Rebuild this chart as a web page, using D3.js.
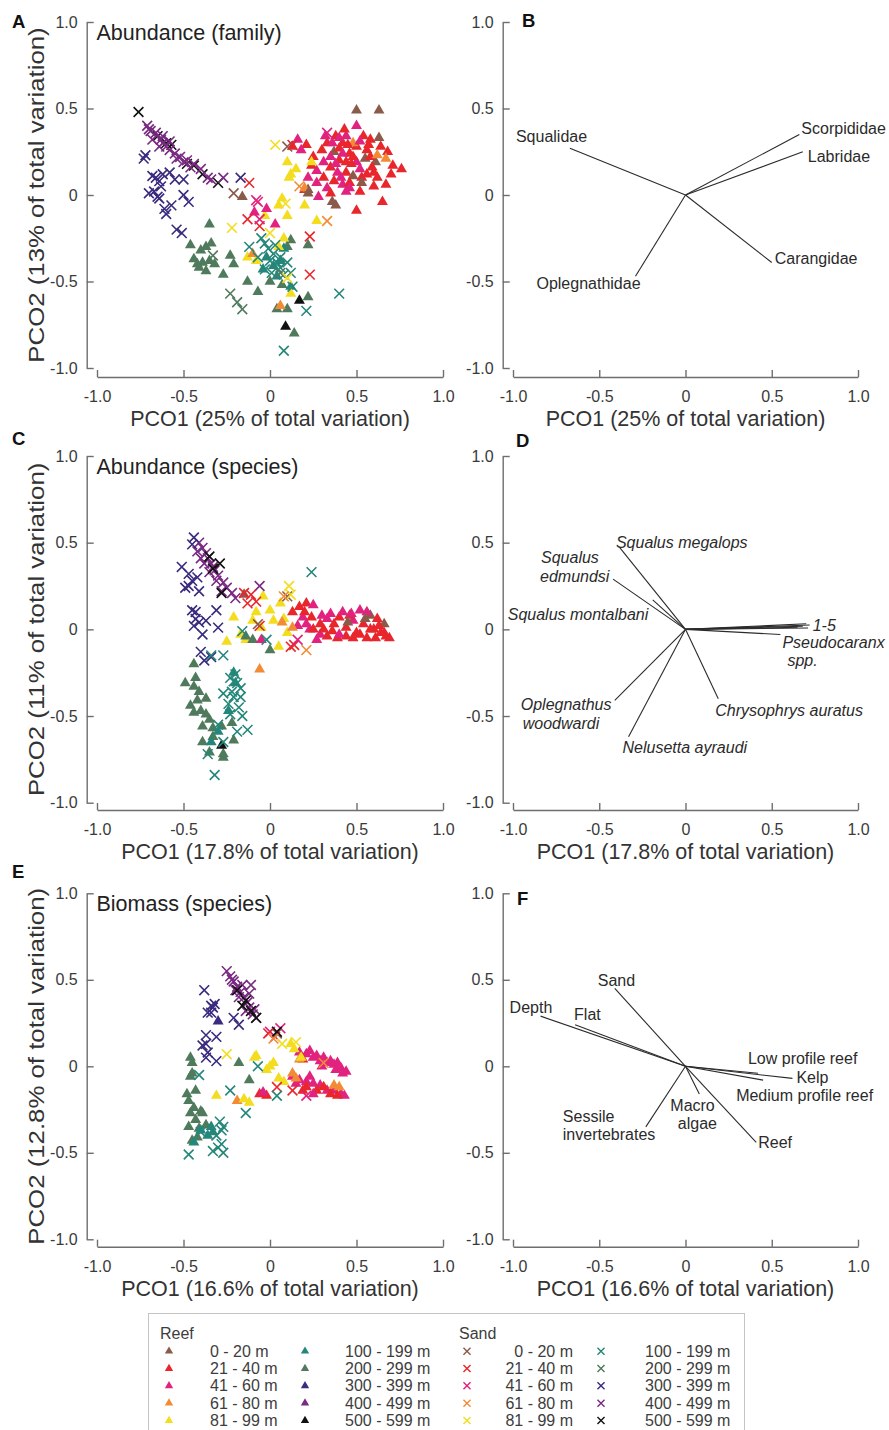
<!DOCTYPE html>
<html>
<head>
<meta charset="utf-8">
<script src="https://cdn.jsdelivr.net/npm/d3@7"></script>
<style>
  html, body { margin: 0; padding: 0; background: #fff; }
  svg { display: block; font-family: "Liberation Sans", Arial, Helvetica, sans-serif; }
</style>
</head>
<body>
<svg id="fig" width="889" height="1430"></svg>
<script>
// ---------- categories ----------
const habitats = ["Reef", "Sand"];
const depthClasses = ["0 - 20 m", "21 - 40 m", "41 - 60 m", "61 - 80 m", "81 - 99 m",
                      "100 - 199 m", "200 - 299 m", "300 - 399 m", "400 - 499 m", "500 - 599 m"];
const depthColours = ["#8a5b4b", "#e8262b", "#e2227f", "#f28b36", "#f3dd1e",
                      "#24877a", "#4f7a5c", "#3a2b7e", "#7a2a82", "#111111"];
const tickValues = [-1, -0.5, 0, 0.5, 1];

// ---------- PCO scores: [PCO1, PCO2, depth class index] ----------
const reefFamily = [
  [0.50,0.49,0],[0.63,0.49,0],[0.50,0.40,2],[0.16,0.32,2],[0.21,0.29,1],[0.13,0.28,1],[0.38,0.34,1],[0.44,0.34,2],
  [0.42,0.30,1],[0.50,0.28,1],[0.58,0.32,1],[0.63,0.33,0],[0.54,0.34,1],[0.33,0.30,1],[0.37,0.25,0],[0.40,0.27,1],
  [0.46,0.24,1],[0.56,0.26,1],[0.48,0.30,3],[0.68,0.25,1],[0.55,0.21,0],[0.61,0.19,0],[0.71,0.17,1],[0.76,0.15,1],
  [0.67,0.21,3],[0.31,0.19,2],[0.27,0.14,2],[0.35,0.16,1],[0.40,0.20,1],[0.44,0.19,1],[0.50,0.19,2],[0.39,0.13,2],
  [0.44,0.13,1],[0.48,0.11,0],[0.53,0.10,1],[0.60,0.13,1],[0.59,0.16,1],[0.31,0.10,1],[0.27,0.07,2],[0.33,0.04,2],
  [0.42,0.06,2],[0.46,0.07,1],[0.53,0.07,0],[0.60,0.05,1],[0.67,0.06,1],[0.22,0.10,2],[0.20,0.03,1],[0.35,0.01,1],
  [0.38,-0.06,0],[0.50,-0.09,1],[0.65,-0.04,1],[0.44,0.02,2],[0.28,-0.01,2],[0.22,0.03,0],
  [0.36,0.30,2],[0.40,0.33,2],[0.45,0.29,1],[0.52,0.31,2],[0.57,0.29,1],[0.35,0.22,2],[0.42,0.24,2],[0.47,0.18,1],
  [0.52,0.15,2],[0.58,0.22,1],[0.64,0.28,1],[0.30,0.26,1],[0.25,0.22,1],[0.18,0.26,2],[0.37,0.08,1],[0.41,0.10,2],
  [0.56,0.12,1],[0.62,0.10,1],[0.70,0.12,1],[0.46,0.04,2],[0.38,0.18,2],[0.48,0.22,1],[0.32,0.34,2],[0.43,0.38,1],
  [0.24,0.17,1],[0.62,0.23,3],[0.52,0.02,1],
  [0.10,0.19,4],[0.12,0.12,4],[0.24,0.19,4],[0.20,-0.06,4],[0.10,-0.12,4],[-0.03,-0.12,4],[0.27,-0.15,4],
  [0.11,0.10,4],[0.05,-0.06,4],[0.07,-0.02,4],[0.15,0.15,4],
  [0.20,0.04,3],[0.22,0.01,0],[0.36,-0.04,0],
  [-0.09,-0.10,2],[0.03,-0.17,2],[-0.02,-0.08,2],[-0.16,-0.01,0],
  [-0.35,-0.17,6],[-0.46,-0.29,6],[-0.40,-0.32,6],[-0.37,-0.30,6],[-0.44,-0.37,6],[-0.39,-0.39,6],[-0.42,-0.40,6],
  [-0.35,-0.38,6],[-0.37,-0.44,6],[-0.34,-0.28,6],[-0.23,-0.35,6],[-0.21,-0.40,6],[-0.27,-0.46,6],[-0.13,-0.50,6],
  [-0.07,-0.56,6],[0.00,-0.50,6],[0.07,-0.52,6],[0.12,-0.26,6],[0.22,-0.29,6],[0.22,-0.59,6],[0.04,-0.66,6],
  [0.10,-0.66,6],[0.14,-0.80,6],[-0.41,-0.42,6],[-0.32,-0.40,6],[0.10,-0.30,6],
  [-0.02,-0.36,5],[0.06,-0.38,5],[0.02,-0.41,5],[0.12,-0.53,5],[0.08,-0.31,5],[-0.04,-0.43,5],[0.04,-0.47,5],
  [-0.13,-0.36,4],[-0.08,-0.38,4],[0.12,-0.57,4],[0.08,-0.25,4],[0.05,-0.30,4],
  [-0.10,-0.34,3],[0.06,-0.64,3],
  [0.09,-0.76,9],[0.17,-0.61,9]
];
const sandFamily = [
  [-0.76,0.48,9],[-0.65,0.34,9],[-0.57,0.29,9],[-0.48,0.18,9],[-0.39,0.12,9],[-0.30,0.07,9],[-0.44,0.17,9],[-0.60,0.30,9],
  [-0.71,0.40,8],[-0.69,0.37,8],[-0.66,0.36,8],[-0.63,0.32,8],[-0.62,0.30,8],[-0.60,0.28,8],[-0.58,0.26,8],[-0.55,0.24,8],
  [-0.52,0.22,8],[-0.48,0.20,8],[-0.44,0.18,8],[-0.40,0.15,8],[-0.36,0.10,8],[-0.34,0.09,8],[-0.27,0.10,8],[-0.68,0.32,8],
  [-0.62,0.34,8],[-0.58,0.31,8],[-0.54,0.21,8],[-0.64,0.28,8],[-0.70,0.38,8],[-0.50,0.19,8],[-0.46,0.16,8],
  [-0.72,0.23,7],[-0.73,0.21,7],[-0.68,0.11,7],[-0.66,0.10,7],[-0.64,0.08,7],[-0.70,0.01,7],[-0.67,0.02,7],[-0.64,-0.02,7],
  [-0.61,-0.08,7],[-0.60,-0.11,7],[-0.57,-0.06,7],[-0.58,0.13,7],[-0.55,0.09,7],[-0.50,0.09,7],[-0.50,0.00,7],[-0.47,-0.04,7],
  [-0.54,-0.20,7],[-0.51,-0.22,7],[-0.17,0.10,7],[-0.62,0.12,7],[-0.65,-0.01,7],[-0.63,0.05,7],
  [-0.21,0.01,0],[-0.12,0.07,1],[-0.07,-0.04,2],[-0.13,-0.14,1],[-0.06,-0.18,1],[-0.06,-0.14,2],[-0.22,-0.19,4],
  [0.03,0.29,4],[0.10,0.28,0],[0.17,0.05,3],[0.33,-0.15,3],[0.13,0.29,1],[0.33,0.36,2],[-0.08,-0.03,2],
  [0.23,-0.24,1],[0.23,-0.46,1],[0.09,-0.05,4],
  [-0.03,-0.28,5],[-0.01,-0.31,5],[0.02,-0.34,5],[0.04,-0.39,5],[0.06,-0.42,5],[-0.03,-0.43,5],[0.01,-0.45,5],
  [0.12,-0.45,5],[0.13,-0.53,5],[-0.05,-0.25,5],[-0.12,-0.30,5],[0.21,-0.67,5],[0.40,-0.57,5],[0.08,-0.90,5],
  [-0.07,-0.36,5],[0.10,-0.39,5],[0.06,-0.36,5],[0.00,-0.38,5],[0.08,-0.46,5],[0.03,-0.29,5],
  [-0.23,-0.57,6],[-0.19,-0.62,6],[-0.16,-0.66,6],[-0.33,-0.35,6],[0.06,-0.45,6],
  [0.10,-0.48,4],[0.00,-0.22,4]
];

const reefSpecies = [
  [0.17,0.13,1],[0.21,0.15,1],[0.25,0.14,2],[0.13,0.10,1],[0.19,0.07,2],[0.16,0.02,2],[0.23,0.00,2],[0.29,0.03,1],
  [0.33,0.06,2],[0.37,0.03,1],[0.40,0.07,1],[0.44,0.01,1],[0.48,0.05,2],[0.52,0.11,2],[0.54,0.03,1],[0.60,0.00,1],
  [0.64,-0.02,1],[0.67,-0.04,1],[0.66,0.03,0],[0.58,0.08,0],[0.50,-0.02,1],[0.44,-0.04,1],[0.39,-0.05,1],[0.33,-0.04,1],
  [0.29,-0.03,2],[0.25,0.00,1],[0.21,0.03,2],
  [0.30,0.08,2],[0.35,0.09,2],[0.42,0.10,2],[0.46,0.08,1],[0.56,0.10,2],[0.62,0.06,1],[0.52,-0.03,1],[0.56,-0.05,1],
  [0.61,-0.05,1],[0.48,-0.05,1],[0.36,-0.01,1],[0.27,-0.06,2],[0.31,0.00,1],[0.45,0.04,0],[0.55,0.06,0],[0.63,0.02,1],
  [0.40,-0.03,2],[0.20,0.10,1],[0.24,0.07,1],[0.58,0.00,1],[0.66,-0.02,1],[0.69,-0.05,1],[0.47,0.09,2],
  [-0.04,0.19,4],[0.00,0.11,4],[-0.08,0.10,4],[0.06,0.15,4],[-0.21,0.07,4],[-0.25,-0.07,4],[-0.14,-0.06,4],
  [-0.10,0.05,4],[0.05,-0.10,4],[0.10,-0.02,4],[-0.17,-0.03,4],[0.02,0.05,4],[-0.05,0.01,4],[0.08,0.06,4],
  [0.07,0.04,3],[-0.06,-0.23,3],[0.13,0.01,3],
  [-0.10,-0.06,6],[-0.14,-0.04,6],[0.00,-0.12,6],[-0.05,-0.06,2],[-0.15,0.20,0],
  [-0.44,-0.20,6],[-0.49,-0.31,6],[-0.43,-0.28,6],[-0.44,-0.33,6],[-0.42,-0.41,6],[-0.37,-0.40,6],[-0.40,-0.47,6],
  [-0.44,-0.48,6],[-0.37,-0.49,6],[-0.39,-0.56,6],[-0.33,-0.57,6],[-0.28,-0.56,6],[-0.39,-0.65,6],[-0.33,-0.62,6],
  [-0.35,-0.71,6],[-0.27,-0.74,6],[-0.27,-0.72,6],[-0.22,-0.54,6],[-0.21,-0.64,6],[-0.41,-0.36,6],[-0.46,-0.44,6],
  [-0.35,-0.52,6],
  [-0.21,-0.25,5],[-0.20,-0.31,5],[-0.30,-0.59,5],[-0.34,-0.65,5],[-0.24,-0.47,5],
  [-0.28,-0.67,9]
];
const sandSpecies = [
  [-0.41,0.50,8],[-0.39,0.47,8],[-0.37,0.44,8],[-0.36,0.41,8],[-0.34,0.38,8],[-0.32,0.34,8],[-0.30,0.31,8],[-0.27,0.27,8],
  [-0.25,0.24,8],[-0.22,0.21,8],[-0.20,0.18,8],[-0.38,0.38,8],[-0.40,0.41,8],[-0.35,0.33,8],[-0.31,0.28,8],[-0.42,0.45,8],
  [-0.33,0.36,8],[-0.28,0.22,8],[-0.06,0.25,8],
  [-0.44,0.53,7],[-0.45,0.49,7],[-0.51,0.36,7],[-0.47,0.32,7],[-0.49,0.24,7],[-0.41,0.22,7],[-0.45,0.28,7],[-0.45,0.11,7],
  [-0.43,0.10,7],[-0.41,0.04,7],[-0.37,0.05,7],[-0.39,-0.03,7],[-0.44,0.02,7],[-0.30,0.01,7],[-0.31,0.11,7],[-0.40,-0.13,7],
  [-0.38,-0.18,7],[-0.34,-0.16,7],[-0.47,0.25,7],[-0.42,0.30,7],[-0.43,0.06,7],
  [-0.35,0.42,9],[-0.29,0.38,9],[-0.28,0.21,9],[-0.33,0.35,9],
  [-0.15,0.21,1],[-0.11,0.20,1],[-0.13,0.15,1],[-0.08,0.16,1],[0.14,-0.09,1],[-0.06,0.02,1],[0.12,-0.10,1],
  [0.10,0.19,0],[-0.07,0.03,0],[0.11,0.25,4],[0.12,0.20,4],[0.21,-0.12,3],[0.08,0.19,3],
  [-0.16,-0.01,5],[-0.02,-0.06,5],[0.24,0.33,5],[-0.27,-0.15,5],[-0.34,-0.15,5],[0.16,-0.06,2],
  [-0.20,-0.26,5],[-0.19,-0.31,5],[-0.22,-0.36,5],[-0.17,-0.34,5],[-0.21,-0.39,5],[-0.17,-0.39,5],[-0.27,-0.37,5],
  [-0.24,-0.43,5],[-0.23,-0.49,5],[-0.16,-0.50,5],[-0.13,-0.58,5],[-0.19,-0.59,5],[-0.27,-0.65,5],[-0.36,-0.72,5],
  [-0.32,-0.84,5],[-0.21,-0.30,5],[-0.18,-0.45,5],[-0.23,-0.28,5],[-0.30,-0.55,5]
];

const reefBiomass = [
  [0.21,0.07,2],[0.25,0.05,2],[0.29,0.03,2],[0.33,0.02,2],[0.37,0.01,2],[0.41,-0.01,2],[0.44,-0.03,2],[0.17,0.08,2],
  [0.23,0.09,2],[0.27,0.06,2],[0.31,0.05,2],[0.35,0.03,2],[0.39,0.02,2],[0.19,0.04,1],[0.30,0.00,2],[0.38,-0.02,2],
  [0.42,-0.04,2],
  [0.17,-0.08,2],[0.21,-0.09,2],[0.25,-0.10,2],[0.29,-0.11,2],[0.33,-0.14,2],[0.37,-0.14,2],[0.41,-0.16,2],[0.43,-0.17,2],
  [0.13,-0.06,2],[0.15,-0.10,2],[0.21,-0.12,1],[0.27,-0.14,1],[0.31,-0.12,1],[0.35,-0.16,1],[0.39,-0.17,1],[0.19,-0.14,1],
  [0.25,-0.16,2],[0.40,-0.12,3],[0.37,-0.11,3],[0.13,-0.04,3],[0.15,-0.07,3],[0.23,-0.06,2],
  [-0.06,-0.16,1],[-0.02,-0.17,1],[-0.04,-0.15,2],
  [-0.19,-0.20,3],[0.17,0.04,3],
  [-0.09,0.05,4],[-0.08,0.06,4],[-0.02,-0.02,4],[0.02,0.02,4],[0.05,-0.07,4],[-0.31,-0.17,4],[-0.12,-0.21,4],
  [0.12,0.13,4],[0.18,0.05,4],[0.08,-0.09,4],[0.00,0.00,4],[0.14,0.10,4],[-0.15,-0.19,4],
  [-0.18,0.02,6],[-0.12,-0.08,6],
  [-0.46,0.05,6],[-0.46,-0.06,6],[-0.43,-0.14,6],[-0.48,-0.16,6],[-0.44,-0.24,6],[-0.40,-0.26,6],[-0.39,-0.27,6],
  [-0.47,-0.35,6],[-0.41,-0.36,6],[-0.37,-0.34,6],[-0.42,-0.41,6],[-0.45,-0.43,6],[-0.45,0.02,6],[-0.45,-0.04,6],
  [-0.47,-0.20,6],[-0.43,-0.31,6],[-0.46,-0.27,6],
  [-0.34,-0.35,5],[-0.33,-0.38,5],[-0.40,-0.37,5],[-0.36,-0.40,5],[-0.44,-0.44,5],
  [-0.30,0.26,7]
];
const sandBiomass = [
  [-0.25,0.55,8],[-0.23,0.52,8],[-0.21,0.49,8],[-0.19,0.46,8],[-0.17,0.43,8],[-0.15,0.40,8],[-0.13,0.37,8],[-0.12,0.34,8],
  [-0.10,0.30,8],[-0.08,0.28,8],[-0.11,0.47,8],[-0.16,0.47,8],[-0.20,0.44,8],[-0.18,0.40,8],[-0.14,0.32,8],[-0.22,0.50,8],
  [-0.12,0.42,8],[-0.09,0.33,8],
  [-0.19,0.44,9],[-0.14,0.38,9],[-0.11,0.32,9],[-0.08,0.28,9],[-0.16,0.35,9],
  [-0.38,0.44,7],[-0.32,0.36,7],[-0.33,0.34,7],[-0.36,0.31,7],[-0.34,0.31,7],[-0.21,0.28,7],[-0.18,0.24,7],[-0.37,0.18,7],
  [-0.37,0.13,7],[-0.31,0.17,7],[-0.36,0.08,7],[-0.37,0.05,7],[-0.31,0.03,7],[-0.34,0.35,7],[-0.39,0.12,7],
  [0.00,0.20,2],[0.06,0.22,2],[0.21,-0.17,2],[0.03,0.17,2],
  [0.04,0.19,0],[0.04,0.20,9],
  [0.04,-0.12,1],[0.13,-0.14,1],[-0.01,0.19,1],
  [0.31,0.02,3],[0.02,0.16,3],
  [-0.25,0.07,4],[0.15,0.14,4],[0.07,0.13,4],
  [-0.07,0.00,5],[0.04,-0.17,5],[-0.14,-0.27,5],[-0.23,-0.14,5],[-0.41,-0.05,5],[-0.47,-0.51,5],[-0.31,-0.40,5],
  [-0.27,-0.35,5],[-0.30,-0.47,5],[-0.27,-0.50,5],[-0.33,-0.49,5],[-0.28,-0.37,5],[-0.29,-0.32,5],[-0.28,-0.45,5],
  [-0.40,-0.38,5]
];

// ---------- vector overlays (correlation with PCO axes) ----------
const familyVectors = [
  { name: "Squalidae",     pco1: -0.67, pco2: 0.27 },
  { name: "Scorpididae",   pco1: 0.66,  pco2: 0.35 },
  { name: "Labridae",      pco1: 0.68,  pco2: 0.25 },
  { name: "Carangidae",    pco1: 0.50,  pco2: -0.39 },
  { name: "Oplegnathidae", pco1: -0.29, pco2: -0.47 }
];
const speciesVectors = [
  { name: "Squalus megalops",     pco1: -0.38, pco2: 0.47 },
  { name: "Squalus edmundsi",     pco1: -0.42, pco2: 0.29 },
  { name: "Squalus montalbani",   pco1: -0.19, pco2: 0.17 },
  { name: "1-5",                  pco1: 0.72,  pco2: 0.025 },
  { name: "",                     pco1: 0.70,  pco2: 0.032 },
  { name: "",                     pco1: 0.68,  pco2: 0.018 },
  { name: "",                     pco1: 0.65,  pco2: 0.012 },
  { name: "",                     pco1: 0.71,  pco2: 0.008 },
  { name: "Pseudocaranx spp.",    pco1: 0.55,  pco2: -0.03 },
  { name: "Chrysophrys auratus",  pco1: 0.19,  pco2: -0.40 },
  { name: "Nelusetta ayraudi",    pco1: -0.33, pco2: -0.62 },
  { name: "Oplegnathus woodwardi",pco1: -0.41, pco2: -0.41 }
];
const habitatVectors = [
  { name: "Sand",                 pco1: -0.41, pco2: 0.45 },
  { name: "Depth",                pco1: -0.84, pco2: 0.29 },
  { name: "Flat",                 pco1: -0.64, pco2: 0.24 },
  { name: "Low profile reef",     pco1: 0.42,  pco2: -0.04 },
  { name: "Kelp",                 pco1: 0.62,  pco2: -0.07 },
  { name: "Medium profile reef",  pco1: 0.45,  pco2: -0.08 },
  { name: "Reef",                 pco1: 0.41,  pco2: -0.44 },
  { name: "Macro algae",          pco1: 0.08,  pco2: -0.16 },
  { name: "Sessile invertebrates",pco1: -0.23, pco2: -0.35 }
];

// ---------- label placement for vector names: one [dx, dy, text] per line ----------
const vectorLabelLayout = {
  "Squalidae": [[-54, -6, "Squalidae"]],
  "Scorpididae": [[2, 0, "Scorpididae"]],
  "Labridae": [[5, 10, "Labridae"]],
  "Carangidae": [[3, 2, "Carangidae"]],
  "Oplegnathidae": [[-99, 13, "Oplegnathidae"]],
  "Squalus megalops": [[-4, 0, "Squalus megalops"]],
  "Squalus edmundsi": [[-72, -16, "Squalus"], [-73, 2.5, "edmundsi"]],
  "Squalus montalbani": [[-145, 20, "Squalus montalbani"]],
  "1-5": [[3, 6, "1-5"]],
  "Pseudocaranx spp.": [[2, 13, "Pseudocaranx"], [7, 31, "spp."]],
  "Chrysophrys auratus": [[-3, 17, "Chrysophrys auratus"]],
  "Nelusetta ayraudi": [[-6, 16, "Nelusetta ayraudi"]],
  "Oplegnathus woodwardi": [[-94, 9.5, "Oplegnathus"], [-92, 28.5, "woodwardi"]],
  "Sand": [[-17, -2, "Sand"]],
  "Depth": [[-31, -3, "Depth"]],
  "Flat": [[-1, -5, "Flat"]],
  "Low profile reef": [[-10, -9, "Low profile reef"]],
  "Kelp": [[4, 5, "Kelp"]],
  "Medium profile reef": [[-27, 21, "Medium profile reef"]],
  "Reef": [[2, 6, "Reef"]],
  "Macro algae": [[-29, 17, "Macro"], [-21.5, 35, "algae"]],
  "Sessile invertebrates": [[-83, -5, "Sessile"], [-83, 13, "invertebrates"]]
};

// ---------- panel definitions ----------
const panelRows = [
  { scatterLetter: "A", vectorLetter: "B", title: "Abundance (family)",
    xTitle: "PCO1 (25% of total variation)", yTitle: "PCO2 (13% of total variation)",
    reef: reefFamily, sand: sandFamily, vectors: familyVectors, italic: false },
  { scatterLetter: "C", vectorLetter: "D", title: "Abundance (species)",
    xTitle: "PCO1 (17.8% of total variation)", yTitle: "PCO2 (11% of total variation)",
    reef: reefSpecies, sand: sandSpecies, vectors: speciesVectors, italic: true },
  { scatterLetter: "E", vectorLetter: "F", title: "Biomass (species)",
    xTitle: "PCO1 (16.6% of total variation)", yTitle: "PCO2 (12.8% of total variation)",
    reef: reefBiomass, sand: sandBiomass, vectors: habitatVectors, italic: false }
];

// ---------- layout ----------
const cols = [
  { axisX: 86.7, range: [97, 443] },
  { axisX: 502.7, range: [513, 858] }
];
const rows = [
  { top: 22, bottom: 368, xAxisY: 377, scatterLetterY: 28, vectorLetterX: 522, vectorLetterY: 27 },
  { top: 456, bottom: 802.7, xAxisY: 810, scatterLetterY: 445, vectorLetterX: 516, vectorLetterY: 447 },
  { top: 893.3, bottom: 1239.3, xAxisY: 1246.7, scatterLetterY: 878, vectorLetterX: 517, vectorLetterY: 905 }
];
const axisColour = "#6e6e6e";
const textColour = "#333";
const FONT = '"Liberation Sans", Arial, Helvetica, sans-serif';

const svg = d3.select("#fig");
svg.append("rect").attr("width", 889).attr("height", 1430).attr("fill", "#fff");

const tickFmt = d => d === 0 ? "0" : d.toFixed(1);
const triangle = d3.symbol(d3.symbolTriangle, 52);
const cross = d3.symbol(d3.symbolTimes, 64);

function drawFrame(g, x, y, col, row, showYTitle, xTitle, yTitle) {
  const ya = g.append("g")
    .attr("transform", `translate(${col.axisX},0)`)
    .call(d3.axisLeft(y).tickValues(tickValues).tickSize(-7).tickSizeOuter(0).tickPadding(9).tickFormat(tickFmt));
  const xa = g.append("g")
    .attr("transform", `translate(0,${row.xAxisY})`)
    .call(d3.axisBottom(x).tickValues(tickValues).tickSize(-7).tickSizeOuter(0).tickPadding(14).tickFormat(tickFmt));
  [ya, xa].forEach(a => {
    a.attr("font-family", FONT).attr("font-size", 16);
    a.select(".domain").attr("stroke", axisColour).attr("stroke-width", 1.4);
    a.selectAll(".tick line").attr("stroke", axisColour).attr("stroke-width", 1.4);
    a.selectAll(".tick text").attr("fill", "#3a3a3a");
  });

  g.append("text")
    .attr("x", (col.range[0] + col.range[1]) / 2)
    .attr("y", row.xAxisY + 49)
    .attr("text-anchor", "middle")
    .attr("font-size", 21.5)
    .attr("fill", textColour)
    .text(xTitle);

  if (showYTitle) {
    g.append("text")
      .attr("transform", `translate(44,${(row.top + row.bottom) / 2}) rotate(-90) scale(1.2,1)`)
      .attr("text-anchor", "middle")
      .attr("font-size", 21.5)
      .attr("fill", textColour)
      .text(yTitle);
  }
}

panelRows.forEach((p, ri) => {
  const row = rows[ri];
  const y = d3.scaleLinear().domain([-1, 1]).range([row.bottom, row.top]);

  // ---- scatter panel ----
  const colL = cols[0];
  const xL = d3.scaleLinear().domain([-1, 1]).range(colL.range);
  const gL = svg.append("g").attr("font-family", FONT);
  drawFrame(gL, xL, y, colL, row, true, p.xTitle, p.yTitle);

  gL.append("text")
    .attr("x", 12).attr("y", row.scatterLetterY)
    .attr("font-size", 18.5).attr("font-weight", "bold").attr("fill", "#111")
    .text(p.scatterLetter);
  gL.append("text")
    .attr("x", 96.5).attr("y", row.top + 17.5)
    .attr("font-size", 21.5).attr("fill", "#222")
    .text(p.title);

  gL.append("g").selectAll("path")
    .data(p.reef)
    .join("path")
    .attr("d", triangle)
    .attr("transform", d => `translate(${xL(d[0])},${y(d[1])})`)
    .attr("fill", d => depthColours[d[2]]);

  gL.append("g").selectAll("path")
    .data(p.sand)
    .join("path")
    .attr("d", cross)
    .attr("transform", d => `translate(${xL(d[0])},${y(d[1])})`)
    .attr("fill", "none")
    .attr("stroke", d => depthColours[d[2]])
    .attr("stroke-width", 1.6);

  // ---- vector panel ----
  const colR = cols[1];
  const xR = d3.scaleLinear().domain([-1, 1]).range(colR.range);
  const gR = svg.append("g").attr("font-family", FONT);
  drawFrame(gR, xR, y, colR, row, false, p.xTitle, p.yTitle);

  gR.append("text")
    .attr("x", row.vectorLetterX).attr("y", row.vectorLetterY)
    .attr("font-size", 18.5).attr("font-weight", "bold").attr("fill", "#111")
    .text(p.vectorLetter);

  gR.append("g").selectAll("line")
    .data(p.vectors)
    .join("line")
    .attr("x1", xR(0)).attr("y1", y(0))
    .attr("x2", d => xR(d.pco1)).attr("y2", d => y(d.pco2))
    .attr("stroke", "#2b2b2b")
    .attr("stroke-width", 1.1);

  const labelled = p.vectors.filter(d => d.name && vectorLabelLayout[d.name]);
  const labels = gR.append("g").selectAll("text")
    .data(labelled)
    .join("text")
    .attr("font-size", 16)
    .attr("font-style", p.italic ? "italic" : "normal")
    .attr("fill", "#2b2b2b");
  labels.each(function (d) {
    const t = d3.select(this);
    vectorLabelLayout[d.name].forEach(([dx, dy, txt]) => {
      t.append("tspan")
        .attr("x", xR(d.pco1) + dx)
        .attr("y", y(d.pco2) + dy)
        .text(txt);
    });
  });
});

// ---------- legend ----------
const legend = svg.append("g").attr("font-family", FONT).attr("font-size", 16).attr("fill", "#3d3d3d");
legend.append("rect")
  .attr("x", 148.5).attr("y", 1313.5).attr("width", 596).attr("height", 140)
  .attr("fill", "#fff").attr("stroke", "#c4c4c4").attr("stroke-width", 1);

const legendGroups = [
  { habitat: habitats[0], headX: 160, columns: [
      { markerX: 169, textX: 210, anchor: "start", from: 0 },
      { markerX: 305, textX: 345, anchor: "start", from: 5 } ] },
  { habitat: habitats[1], headX: 459, columns: [
      { markerX: 467, textX: 573, anchor: "end", from: 0 },
      { markerX: 601, textX: 645, anchor: "start", from: 5 } ] }
];
const legendRowY = d3.scaleLinear().domain([0, 4]).range([1356.7, 1426]);
const legendTriangle = d3.symbol(d3.symbolTriangle, 30);
const legendCross = d3.symbol(d3.symbolTimes, 34);

legendGroups.forEach((grp, gi) => {
  legend.append("text").attr("x", grp.headX).attr("y", 1339).text(grp.habitat);
  grp.columns.forEach(c => {
    const items = depthClasses.slice(c.from, c.from + 5).map((label, i) => ({ label, idx: c.from + i, row: i }));
    legend.append("g").selectAll("path")
      .data(items)
      .join("path")
      .attr("d", gi === 0 ? legendTriangle : legendCross)
      .attr("transform", d => `translate(${c.markerX},${legendRowY(d.row) - 5.5})`)
      .attr("fill", d => gi === 0 ? depthColours[d.idx] : "none")
      .attr("stroke", d => gi === 0 ? "none" : depthColours[d.idx])
      .attr("stroke-width", 1.4);
    legend.append("g").selectAll("text")
      .data(items)
      .join("text")
      .attr("x", c.textX)
      .attr("y", d => legendRowY(d.row))
      .attr("text-anchor", c.anchor)
      .text(d => d.label);
  });
});
</script>
</body>
</html>
